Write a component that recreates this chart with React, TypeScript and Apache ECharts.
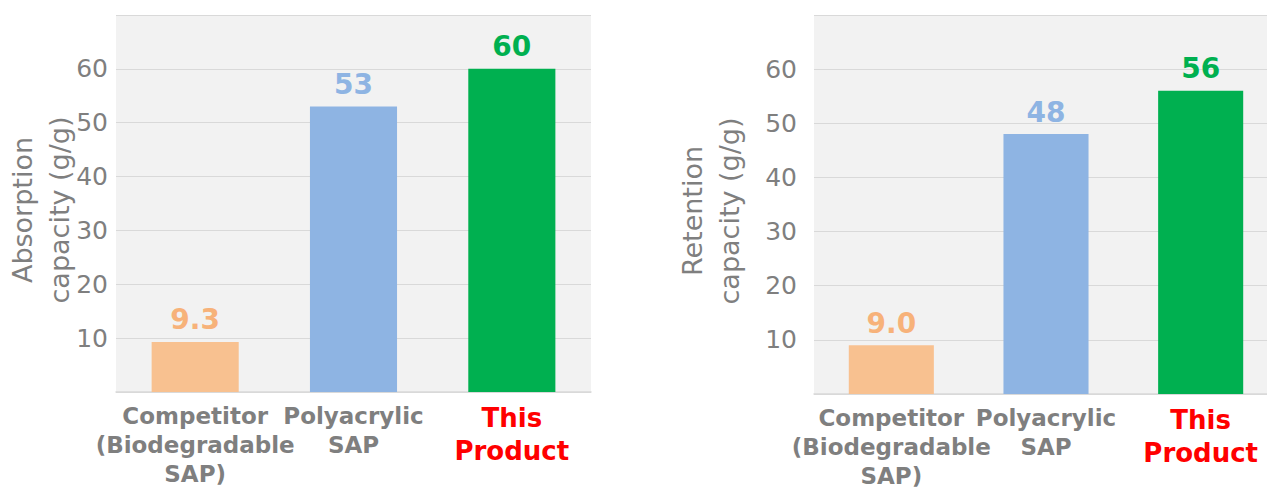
import React, { useEffect, useRef } from "react";
import * as echarts from "echarts";

const categories = ["Competitor\n(Biodegradable\nSAP)", "Polyacrylic\nSAP", "This\nProduct"];
const absorption = [9.3, 53, 60];
const retention = [9.0, 48, 56];
const barColors = ["#F8C190", "#8EB4E3", "#00B050"];
const labelColors = ["#F7B27A", "#8EB4E3", "#00B050"];
const yTickLabels = ["10", "20", "30", "40", "50", "60"];
const highlightIndex = 2;
const axisNames = ["Absorption\ncapacity (g/g)", "Retention\ncapacity (g/g)"];

const FONT = "'DejaVu Sans', Verdana, sans-serif";
const GRAY = "#7F7F7F";

function catFormatter(value: string, idx: number) {
  const style = idx === highlightIndex ? "red" : "gray";
  return value
    .split("\n")
    .map((s) => `{${style}|${s}}`)
    .join("\n");
}

function makeSeries(values: number[], idx: number) {
  return {
    type: "bar",
    xAxisIndex: idx,
    yAxisIndex: idx,
    barWidth: "55%",
    data: values.map((v, i) => ({
      value: v,
      itemStyle: { color: barColors[i] },
      label: { color: labelColors[i] },
    })),
    label: {
      show: true,
      position: "top",
      distance: 8,
      fontFamily: FONT,
      fontWeight: "bold",
      fontSize: 28,
      formatter: (p: any) => (p.value < 10 ? Number(p.value).toFixed(1) : String(p.value)),
    },
  };
}

function makeXAxis(idx: number) {
  return {
    type: "category",
    gridIndex: idx,
    data: categories,
    axisLine: { show: true, lineStyle: { color: "#D9D9D9", width: 1.5 } },
    axisTick: { show: false },
    axisLabel: {
      interval: 0,
      margin: 9,
      formatter: catFormatter,
      rich: {
        gray: { color: GRAY, fontFamily: FONT, fontWeight: "bold", fontSize: 23, lineHeight: 29 },
        red: { color: "#FF0000", fontFamily: FONT, fontWeight: "bold", fontSize: 26, lineHeight: 33 },
      },
    },
  };
}

function makeYAxis(idx: number, margin: number) {
  return {
    type: "value",
    gridIndex: idx,
    min: 0,
    max: 70,
    interval: 10,
    axisLine: { show: false },
    axisTick: { show: false },
    splitLine: { show: true, lineStyle: { color: "#D9D9D9", width: 1 } },
    axisLabel: {
      margin,
      color: GRAY,
      fontFamily: FONT,
      fontSize: 25,
      formatter: (v: number) => (yTickLabels.includes(String(v)) ? String(v) : ""),
    },
  };
}

export default function App() {
  const ref = useRef<HTMLDivElement>(null);
  useEffect(() => {
    if (!ref.current) return;
    const chart = echarts.init(ref.current, null, { renderer: "svg" });
    chart.setOption({
      animation: false,
      backgroundColor: "#FFFFFF",
      grid: [
        { left: 116, top: 15, width: 475, height: 377, show: true, backgroundColor: "#F2F2F2", borderWidth: 0 },
        { left: 814, top: 15, width: 464, height: 380, show: true, backgroundColor: "#F2F2F2", borderWidth: 0 },
      ],
      xAxis: [makeXAxis(0), makeXAxis(1)],
      yAxis: [makeYAxis(0, 8), makeYAxis(1, 17)],
      series: [makeSeries(absorption, 0), makeSeries(retention, 1)],
      graphic: [
        {
          type: "text",
          x: 41,
          y: 210,
          rotation: Math.PI / 2,
          style: {
            text: axisNames[0],
            fill: GRAY,
            font: `27px ${FONT}`,
            lineHeight: 37,
            align: "center",
            verticalAlign: "middle",
          },
        },
        {
          type: "text",
          x: 711,
          y: 211,
          rotation: Math.PI / 2,
          style: {
            text: axisNames[1],
            fill: GRAY,
            font: `27px ${FONT}`,
            lineHeight: 37,
            align: "center",
            verticalAlign: "middle",
          },
        },
      ],
    });
    return () => chart.dispose();
  }, []);
  return (
    <div
      ref={ref}
      style={{ position: "fixed", left: 0, top: 0, width: 1290, height: 487 }}
    />
  );
}
